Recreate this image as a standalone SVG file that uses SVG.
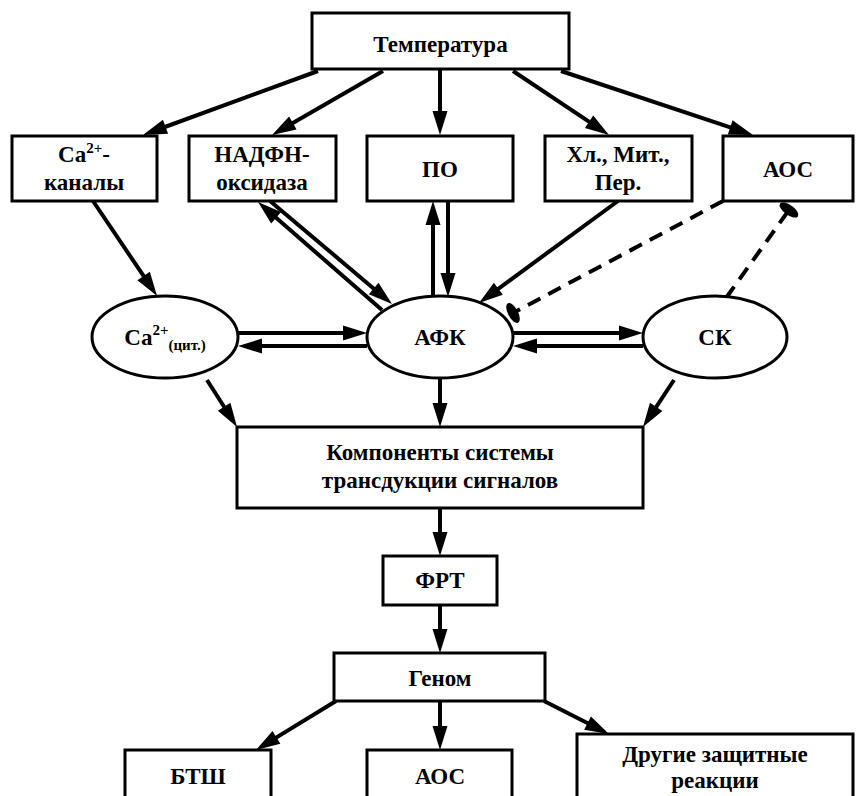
<svg xmlns="http://www.w3.org/2000/svg" width="856" height="796" viewBox="0 0 856 796">
<style>
.box{fill:#fff;stroke:#000;stroke-width:3}
.el{fill:#fff;stroke:#000;stroke-width:3}
.c{stroke:#000;stroke-width:4;fill:none;marker-end:url(#arr)}
.d{stroke:#000;stroke-width:4;fill:none;stroke-dasharray:14 9;marker-end:url(#blunt)}
</style>
<defs>
<marker id="arr" markerUnits="userSpaceOnUse" markerWidth="26" markerHeight="16" refX="8" refY="7.5" orient="auto" overflow="visible">
<path d="M0,0 L24,7.5 L0,15 z" fill="#000"/>
</marker>
<marker id="blunt" markerUnits="userSpaceOnUse" markerWidth="14" markerHeight="26" refX="6" refY="12" orient="auto" overflow="visible">
<ellipse cx="6" cy="12" rx="5" ry="11" fill="#000"/>
</marker>
</defs>
<g id="connectors">
<line class="c" x1="318" y1="71" x2="158" y2="129.5"/>
<line class="c" x1="383" y1="71" x2="285.9" y2="127"/>
<line class="c" x1="440" y1="69" x2="440" y2="119"/>
<line class="c" x1="513" y1="71" x2="595.7" y2="126.1"/>
<line class="c" x1="561" y1="71" x2="737.8" y2="129.9"/>
<line class="c" x1="93" y1="201" x2="148.1" y2="282.7"/>
<line class="c" x1="382" y1="310" x2="270.1" y2="212.5"/>
<line class="c" x1="270" y1="201" x2="379.8" y2="293.7"/>
<line class="c" x1="433" y1="297" x2="433" y2="217"/>
<line class="c" x1="448" y1="201" x2="448" y2="281"/>
<line class="c" x1="618" y1="201" x2="491.9" y2="293.5"/>
<line class="d" x1="723" y1="201" x2="513" y2="313"/>
<line class="d" x1="726" y1="298" x2="789" y2="210"/>
<line class="c" x1="238" y1="333" x2="351" y2="333"/>
<line class="c" x1="367" y1="346" x2="254" y2="346"/>
<line class="c" x1="513" y1="333" x2="627" y2="333"/>
<line class="c" x1="643" y1="346" x2="529" y2="346"/>
<line class="c" x1="207" y1="380" x2="228.4" y2="413.5"/>
<line class="c" x1="440" y1="378" x2="440" y2="411"/>
<line class="c" x1="674" y1="380" x2="651.8" y2="413.6"/>
<line class="c" x1="440" y1="508" x2="440" y2="540"/>
<line class="c" x1="440" y1="605" x2="440" y2="637"/>
<line class="c" x1="336" y1="701" x2="269.6" y2="741.6"/>
<line class="c" x1="440" y1="701" x2="440" y2="734"/>
<line class="c" x1="544" y1="701" x2="594.7" y2="726.8"/>
</g>
<g id="temp"><rect class="box" x="312" y="13" width="257" height="56"/><text font-family="Liberation Serif" font-weight="bold" font-size="23" text-anchor="middle" x="440.5" y="52">Температура</text></g>
<g id="ca-channels"><rect class="box" x="12" y="136" width="145" height="65"/><text font-family="Liberation Serif" font-weight="bold" font-size="23" text-anchor="middle" x="84" y="162">Ca<tspan dy="-9" font-size="15">2+</tspan><tspan dy="9">-</tspan></text><text font-family="Liberation Serif" font-weight="bold" font-size="23" text-anchor="middle" x="84" y="190">каналы</text></g>
<g id="nadph"><rect class="box" x="189" y="136" width="147" height="65"/><text font-family="Liberation Serif" font-weight="bold" font-size="23" text-anchor="middle" x="262" y="162">НАДФН-</text><text font-family="Liberation Serif" font-weight="bold" font-size="23" text-anchor="middle" x="262" y="190">оксидаза</text></g>
<g id="po"><rect class="box" x="367" y="136" width="146" height="65"/><text font-family="Liberation Serif" font-weight="bold" font-size="23" text-anchor="middle" x="440" y="177">ПО</text></g>
<g id="hl"><rect class="box" x="545" y="136" width="147" height="65"/><text font-family="Liberation Serif" font-weight="bold" font-size="23" text-anchor="middle" x="618" y="162">Хл., Мит.,</text><text font-family="Liberation Serif" font-weight="bold" font-size="23" text-anchor="middle" x="618" y="190">Пер.</text></g>
<g id="aos-top"><rect class="box" x="723" y="136" width="130" height="65"/><text font-family="Liberation Serif" font-weight="bold" font-size="23" text-anchor="middle" x="788" y="177">АОС</text></g>
<g id="ca-cyt"><ellipse class="el" cx="165" cy="337" rx="73" ry="41"/><text font-family="Liberation Serif" font-weight="bold" font-size="23" text-anchor="middle" x="165" y="345">Ca<tspan dy="-10" font-size="15">2+</tspan><tspan dy="15" font-size="15">(цит.)</tspan></text></g>
<g id="afk"><ellipse class="el" cx="440" cy="337" rx="73" ry="41"/><text font-family="Liberation Serif" font-weight="bold" font-size="23" text-anchor="middle" x="440" y="345">АФК</text></g>
<g id="sk"><ellipse class="el" cx="715" cy="337" rx="72" ry="41"/><text font-family="Liberation Serif" font-weight="bold" font-size="23" text-anchor="middle" x="715" y="345">СК</text></g>
<g id="components"><rect class="box" x="237" y="427" width="406" height="81"/><text font-family="Liberation Serif" font-weight="bold" font-size="23" text-anchor="middle" x="440" y="460">Компоненты системы</text><text font-family="Liberation Serif" font-weight="bold" font-size="23" text-anchor="middle" x="440" y="488">трансдукции сигналов</text></g>
<g id="frt"><rect class="box" x="383" y="556" width="114" height="49"/><text font-family="Liberation Serif" font-weight="bold" font-size="23" text-anchor="middle" x="440" y="588">ФРТ</text></g>
<g id="genome"><rect class="box" x="334" y="653" width="211" height="48"/><text font-family="Liberation Serif" font-weight="bold" font-size="23" text-anchor="middle" x="440" y="686">Геном</text></g>
<g id="btsh"><rect class="box" x="125" y="750" width="146" height="60"/><text font-family="Liberation Serif" font-weight="bold" font-size="23" text-anchor="middle" x="198" y="784">БТШ</text></g>
<g id="aos-bottom"><rect class="box" x="367" y="750" width="145" height="60"/><text font-family="Liberation Serif" font-weight="bold" font-size="23" text-anchor="middle" x="440" y="784">АОС</text></g>
<g id="other"><rect class="box" x="577" y="734" width="276" height="80"/><text font-family="Liberation Serif" font-weight="bold" font-size="23" text-anchor="middle" x="715" y="762">Другие защитные</text><text font-family="Liberation Serif" font-weight="bold" font-size="23" text-anchor="middle" x="715" y="788">реакции</text></g>
</svg>
